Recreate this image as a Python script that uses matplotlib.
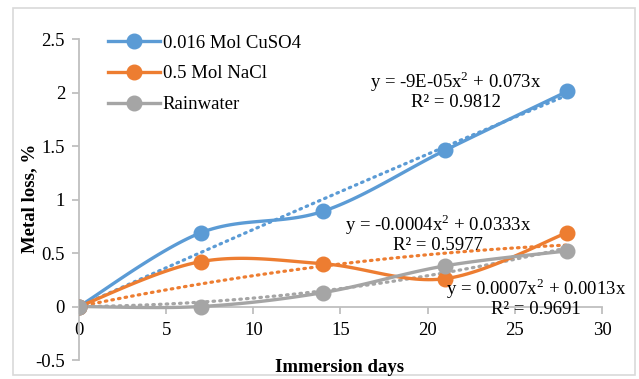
import numpy as np
import matplotlib
matplotlib.use("Agg")
import matplotlib.pyplot as plt
from matplotlib.patches import Rectangle

plt.rcParams['font.family'] = ['Liberation Serif', 'DejaVu Serif']
plt.rcParams['mathtext.fontset'] = 'custom'
plt.rcParams['mathtext.rm'] = 'Liberation Serif'

days = [0, 7, 14, 21, 28]
cuso4 = [0, 0.69, 0.89, 1.46, 2.01]
nacl = [0, 0.42, 0.40, 0.26, 0.69]
rain = [0, 0.0, 0.13, 0.38, 0.52]
names = ['0.016 Mol CuSO4', '0.5 Mol NaCl', 'Rainwater']
colors = ['#5B9BD5', '#ED7D31', '#A5A5A5']
eq_texts = ['y = -9E-05x$^{\\mathrm{2}}$ + 0.073x\nR² = 0.9812',
            'y = -0.0004x$^{\\mathrm{2}}$ + 0.0333x\nR² = 0.5977',
            'y = 0.0007x$^{\\mathrm{2}}$ + 0.0013x\nR² = 0.9691']


def smooth(x, y, n=30):
    x = np.asarray(x, float); y = np.asarray(y, float)
    P = np.column_stack([x, y])
    out = [P[0]]
    for i in range(len(P) - 1):
        p0 = P[i - 1] if i > 0 else P[i]
        p1 = P[i]; p2 = P[i + 1]
        p3 = P[i + 2] if i + 2 < len(P) else P[i + 1]
        c1 = p1 + (p2 - p0) / 6.0
        c2 = p2 - (p3 - p1) / 6.0
        t = np.linspace(0, 1, n)[1:, None]
        B = ((1 - t) ** 3) * p1 + 3 * ((1 - t) ** 2) * t * c1 + 3 * (1 - t) * t ** 2 * c2 + t ** 3 * p2
        out.extend(B)
    out = np.array(out)
    return out[:, 0], out[:, 1]


fig = plt.figure(figsize=(6.39, 3.79), dpi=100)
ax = fig.add_axes([0.1236, 0.0501, 0.8184, 0.8469])

series = [cuso4, nacl, rain]
xd = np.asarray(days, float)
xt = np.linspace(0, 28, 100)
for ys, c, nm in zip(series, colors, names):
    sx, sy = smooth(days, ys)
    ax.plot(sx, sy, color=c, lw=2.4, zorder=3)
    ax.plot(days, ys, 'o', color=c, ms=10.5, zorder=4)
    ax.plot([], [], '-o', color=c, lw=2.4, ms=10.5, label=nm)
    A = np.column_stack([xd ** 2, xd])
    cf, *_ = np.linalg.lstsq(A, np.asarray(ys, float), rcond=None)
    ax.plot(xt, cf[0] * xt ** 2 + cf[1] * xt, color=c, lw=2.3, ls=(0, (0.5, 1.6)),
            dash_capstyle='round', zorder=2)

ax.set_xlim(0, 30)
ax.set_ylim(-0.5, 2.5)
ax.set_xticks([0, 5, 10, 15, 20, 25, 30])
ax.set_yticks([-0.5, 0, 0.5, 1, 1.5, 2, 2.5])
ax.set_yticklabels(['-0.5', '0', '0.5', '1', '1.5', '2', '2.5'])
for s in ['top', 'right']:
    ax.spines[s].set_visible(False)
ax.spines['bottom'].set_position(('data', 0))
for s in ['left', 'bottom']:
    ax.spines[s].set_color('#BFBFBF')
    ax.spines[s].set_linewidth(1.3)
ax.tick_params(axis='both', colors='#BFBFBF', labelcolor='black', labelsize=13.5, length=5, width=1.3)
ax.tick_params(axis='x', pad=6)
ax.tick_params(axis='y', pad=5)
ax.set_facecolor('none')

fig.text(30 / 639, 1 - 198 / 379, 'Metal loss, %', fontsize=13.5, fontweight='bold',
         rotation=90, ha='center', va='center')
fig.text(340 / 639, 1 - 367 / 379, 'Immersion days', fontsize=13.5, fontweight='bold',
         ha='center', va='center')

ax.text(21.6, 2.02, eq_texts[0], ha='center', va='center', fontsize=13.5, linespacing=1.0, zorder=5)
ax.text(20.6, 0.69, eq_texts[1], ha='center', va='center', fontsize=13.5, linespacing=1.0, zorder=5)
ax.text(26.2, 0.085, eq_texts[2], ha='center', va='center', fontsize=13.5, linespacing=1.0, zorder=5)

leg = ax.legend(loc='upper left', bbox_to_anchor=(0.024, 1.066), frameon=False, fontsize=13.5,
                handlelength=2.75, labelspacing=0.72, handletextpad=0.15)

fig.patches.append(Rectangle((0.02, 0.01), 0.974, 0.968, transform=fig.transFigure,
                             fill=False, edgecolor='#D9D9D9', lw=1.2))

fig.savefig('out.png', dpi=100)
